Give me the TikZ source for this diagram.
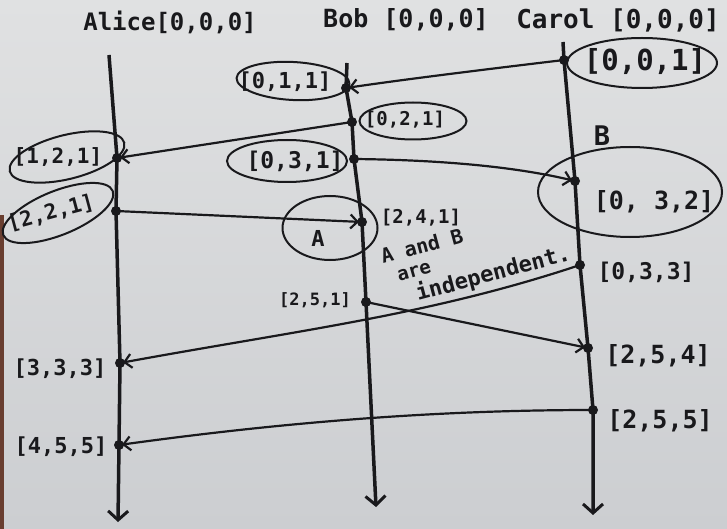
\documentclass[tikz,border=0pt]{standalone}
\usepackage{fontspec}
\newfontfamily\hand{DejaVu Sans Mono}
\usetikzlibrary{arrows.meta,shapes.geometric}
\definecolor{ink}{RGB}{25,25,28}
\definecolor{boardtop}{RGB}{224,225,226}
\definecolor{boardbot}{RGB}{204,206,209}
\definecolor{edge}{RGB}{105,62,48}
\tikzset{
  lbl/.style={font=\hand\bfseries\fontsize{#1}{#1}\selectfont, text=ink, inner sep=0pt},
  timeline/.style={draw=ink, line width=3.5pt, -{Straight Barb[length=9pt,width=20pt,line width=3pt]}},
  msg/.style={draw=ink, line width=2.2pt, shorten >=3pt, -{Straight Barb[length=7pt,width=14pt,line width=2.2pt]}},
  loopring/.style={draw=ink, line width=2pt, ellipse, inner sep=0pt},
  evt/.style={circle, fill=ink, inner sep=0pt, minimum size=10pt},
}
\begin{document}
\begin{tikzpicture}[x=1pt,y=-1pt]
\useasboundingbox (0,0) rectangle (727,529);
\shade[top color=boardtop, bottom color=boardbot] (0,0) rectangle (727,529);
\fill[edge] (0,215) rectangle (4,529);

% headers
\node[lbl=24] (hA) at (170,22) {Alice[0,0,0]};
\node[lbl=25] (hB) at (406,20) {Bob [0,0,0]};
\node[lbl=26] (hC) at (618,20) {Carol [0,0,0]};

% timeline coordinates
\coordinate (atop) at (109,55);
\coordinate (a1) at (117,158);
\coordinate (a2) at (116,211);
\coordinate (a3) at (120,363);
\coordinate (a4) at (119,445);
\coordinate (abot) at (118,522);

\coordinate (btop) at (347,63);
\coordinate (b1) at (346,88);
\coordinate (b2) at (352,122);
\coordinate (b3) at (354,159);
\coordinate (b4) at (362,222);
\coordinate (b5) at (366,302);
\coordinate (bbot) at (376,507);

\coordinate (ctop) at (563,42);
\coordinate (c1) at (564,60);
\coordinate (c2) at (575,181);
\coordinate (c3) at (580,265);
\coordinate (c4) at (588,348);
\coordinate (c5) at (593,410);
\coordinate (cbot) at (593,515);

\draw[timeline] (atop) -- (a1) -- (a2) -- (a3) -- (a4) -- (abot);
\draw[timeline] (btop) -- (b1) -- (b2) -- (b3) -- (b4) -- (b5) -- (bbot);
\draw[timeline] (ctop) -- (c1) -- (c2) -- (c3) -- (c4) -- (c5) -- (cbot);

% messages
\draw[msg] (c1) .. controls (480,70) and (400,80) .. (b1);
\draw[msg] (b2) -- (a1);
\draw[msg] (b3) .. controls (450,160) and (520,168) .. (c2);
\draw[msg] (a2) -- (b4);
\draw[msg] (c3) .. controls (430,315) and (300,330) .. (a3);
\draw[msg] (b5) -- (c4);
\draw[msg] (c5) .. controls (450,410) and (300,420) .. (a4);

% event dots
\foreach \e in {a1,a2,a3,a4,b1,b2,b3,b4,b5,c1,c2,c3,c4,c5}
  \node[evt] (\e dot) at (\e) {};

% loops
\node[loopring, minimum width=150pt, minimum height=50pt] (r001) at (642,63) {};
\node[loopring, minimum width=113pt, minimum height=38pt, rotate=-3] (r011) at (293,81) {};
\node[loopring, minimum width=107pt, minimum height=37pt] (r021) at (413,121) {};
\node[loopring, minimum width=118pt, minimum height=44pt, rotate=14] (r121) at (67,157) {};
\node[loopring, minimum width=120pt, minimum height=42pt] (r031) at (287,161) {};
\node[loopring, minimum width=118pt, minimum height=44pt, rotate=22] (r221) at (58,213) {};
\node[loopring, minimum width=95pt, minimum height=64pt] (rA) at (330,228) {};
\node[loopring, minimum width=184pt, minimum height=90pt] (r032) at (630,192) {};

% labels
\node[lbl=29] (t001) at (645,62) {[0,0,1]};
\node[lbl=22] (t011) at (285,82) {[0,1,1]};
\node[lbl=19] (t021) at (405,120) {[0,2,1]};
\node[lbl=21] (t121) at (58,157) {[1,2,1]};
\node[lbl=23] (t031) at (295,161) {[0,3,1]};
\node[lbl=21, rotate=15] (t221) at (51,213) {[2,2,1]};
\node[lbl=22] (tA) at (318,238) {A};
\node[lbl=19] (t241) at (421,218) {[2,4,1]};
\node[lbl=27] (tB) at (602,136) {B};
\node[lbl=25] (t032) at (654,202) {[0, 3,2]};
\node[lbl=20, rotate=15, anchor=base west] (tind1) at (383,264) {A and B};
\node[lbl=19, rotate=16, anchor=base west] (tind2) at (399,282) {are};
\node[lbl=22, rotate=15, anchor=base west] (tind3) at (418,301) {independent.};
\node[lbl=23] (t033) at (646,272) {[0,3,3]};
\node[lbl=17] (t251) at (315,300) {[2,5,1]};
\node[lbl=22] (t333) at (60,369) {[3,3,3]};
\node[lbl=22] (t455) at (61,447) {[4,5,5]};
\node[lbl=25] (t254) at (658,356) {[2,5,4]};
\node[lbl=25] (t255) at (660,421) {[2,5,5]};
\end{tikzpicture}
\end{document}
